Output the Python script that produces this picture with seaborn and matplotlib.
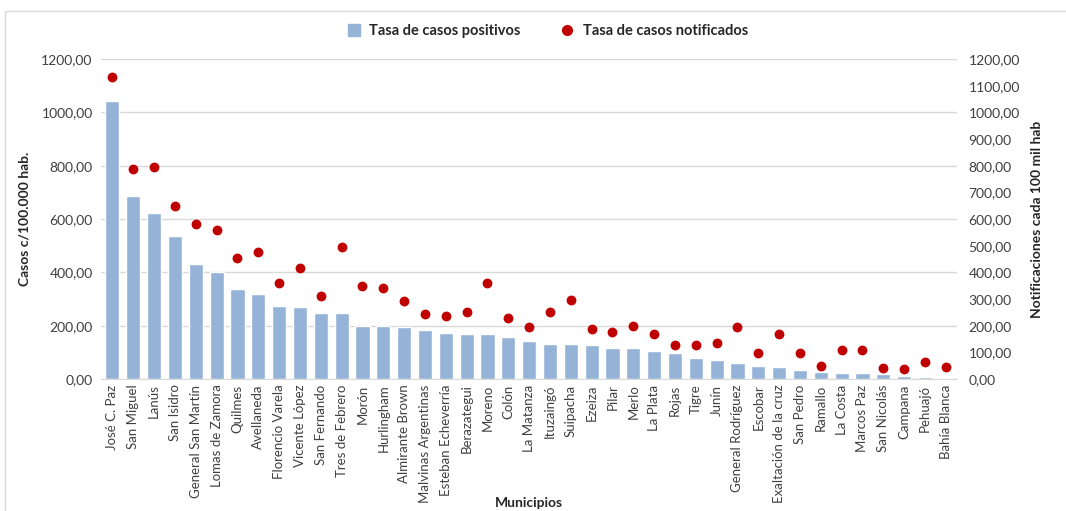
import numpy as np
import pandas as pd
import matplotlib
matplotlib.use("Agg")
import matplotlib.pyplot as plt
import seaborn as sns
from matplotlib.patches import Rectangle
from matplotlib.lines import Line2D
from matplotlib.ticker import FuncFormatter

# ─── Data ───────────────────────────────────────────────────────────────────
municipios = [
    "José C. Paz", "San Miguel", "Lanús", "San Isidro", "General San Martín",
    "Lomas de Zamora", "Quilmes", "Avellaneda", "Florencio Varela",
    "Vicente López", "San Fernando", "Tres de Febrero", "Morón", "Hurlingham",
    "Almirante Brown", "Malvinas Argentinas", "Esteban Echeverría",
    "Berazategui", "Moreno", "Colón", "La Matanza", "Ituzaingó", "Suipacha",
    "Ezeiza", "Pilar", "Merlo", "La Plata", "Rojas", "Tigre", "Junín",
    "General Rodríguez", "Escobar", "Exaltación de la cruz", "San Pedro",
    "Ramallo", "La Costa", "Marcos Paz", "San Nicolás", "Campana", "Pehuajó",
    "Bahía Blanca",
]
tasa_positivos = [
    1043, 685, 622, 535, 430, 403, 336, 320, 272, 271, 248, 247, 199, 198,
    195, 185, 172, 170, 167, 157, 144, 133, 133, 128, 118, 115, 106, 97,
    78, 73, 60, 50, 46, 35, 25, 21, 21, 19, 10, 8, 4,
]
tasa_notificados = [
    1132, 786, 794, 648, 580, 559, 452, 475, 359, 415, 310, 494, 347, 340,
    292, 243, 237, 253, 361, 228, 195, 251, 297, 186, 175, 200, 170, 129,
    127, 134, 196, 96, 170, 96, 47, 108, 107, 40, 39, 62, 44,
]

BAR_COLOR = "#95B3D7"
DOT_COLOR = "#C00000"
FONT = "Lato"

df = pd.DataFrame({
    "Municipio": municipios,
    "Positivos": tasa_positivos,
    "Notificados": tasa_notificados,
})

sns.set_style("white")
plt.rcParams["font.family"] = [FONT, "DejaVu Sans"]

fmt = FuncFormatter(lambda v, _: f"{v:.2f}".replace(".", ","))

fig = plt.figure(figsize=(10.66, 5.11), dpi=100)
ax = fig.add_axes([0.0947, 0.2583, 0.8033, 0.6262])

# ── Bars (left axis) ──────────────────────────────────────────────────────
sns.barplot(data=df, x="Municipio", y="Positivos", color=BAR_COLOR,
            saturation=1, width=0.68, ax=ax, zorder=2)
ax.set_ylim(0, 1200)
ax.set_yticks(np.arange(0, 1201, 200))
ax.yaxis.set_major_formatter(fmt)
ax.grid(axis="y", color="#D9D9D9", linewidth=1, zorder=0)
ax.set_axisbelow(True)
ax.set_xlim(-0.55, len(municipios) - 0.45)
for s in ["top", "left", "right"]:
    ax.spines[s].set_visible(False)
ax.spines["bottom"].set_color("#D9D9D9")
ax.tick_params(axis="y", length=0, labelsize=10, colors="#404040", pad=6)
ax.tick_params(axis="x", length=0, labelsize=9.5, colors="#404040", pad=4)
plt.setp(ax.get_xticklabels(), rotation=90, ha="center", va="top")
ax.set_xlabel("Municipios", fontsize=10, fontweight="bold")
ax.xaxis.set_label_coords(0.5, -0.37)
ax.set_ylabel("Casos c/100.000 hab.", fontsize=10, fontweight="bold", labelpad=8)

# ── Dots (right axis) ─────────────────────────────────────────────────────
ax2 = ax.twinx()
sns.scatterplot(data=df, x="Municipio", y="Notificados", color=DOT_COLOR,
                s=50, linewidth=0, ax=ax2, zorder=3)
ax2.set_ylim(0, 1200)
ax2.set_yticks(np.arange(0, 1201, 100))
ax2.yaxis.set_major_formatter(fmt)
for s in ax2.spines.values():
    s.set_visible(False)
ax2.tick_params(axis="y", length=0, labelsize=10, colors="#404040", pad=8)
ax2.set_ylabel("Notificaciones cada 100 mil hab", fontsize=10,
               fontweight="bold", labelpad=8)

# ── Legend ────────────────────────────────────────────────────────────────
handles = [
    Line2D([], [], marker="s", linestyle="none", markersize=8,
           markerfacecolor=BAR_COLOR, markeredgecolor=BAR_COLOR),
    Line2D([], [], marker="o", linestyle="none", markersize=7,
           markerfacecolor=DOT_COLOR, markeredgecolor=DOT_COLOR),
]
fig.legend(handles, ["Tasa de casos positivos", "Tasa de casos notificados"],
           loc="center", bbox_to_anchor=(0.51, 0.94), ncol=2, frameon=False,
           handletextpad=0.05, columnspacing=2.2,
           prop={"family": FONT, "weight": "bold", "size": 10.5})

# ── Outer frame ───────────────────────────────────────────────────────────
fig.patches.append(Rectangle((0.005, -0.01), 1.2, 0.988, transform=fig.transFigure,
                             fill=False, edgecolor="#D9D9D9", linewidth=1))

fig.savefig("out.png", dpi=100)
